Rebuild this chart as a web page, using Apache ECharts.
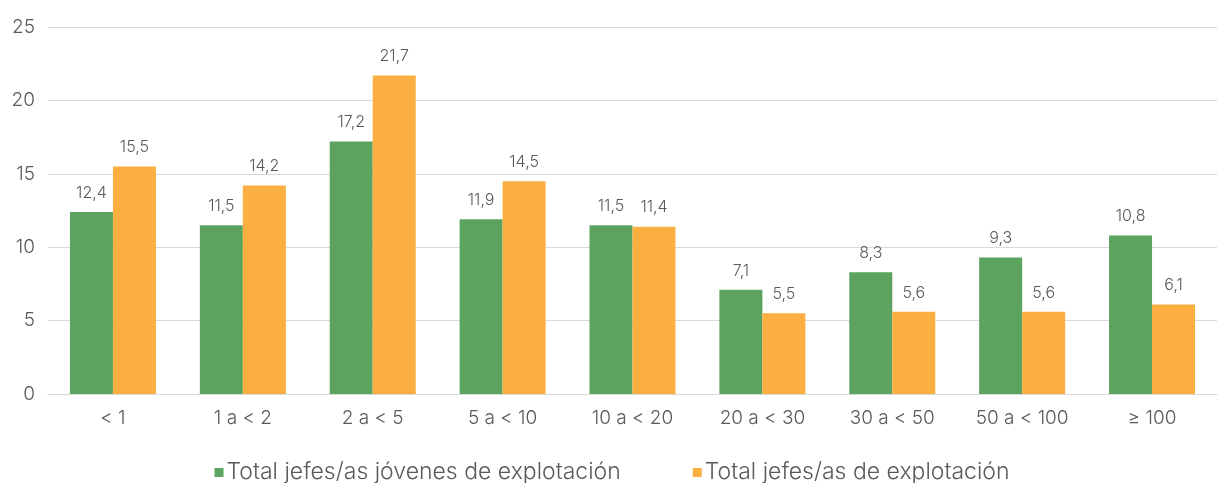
<!DOCTYPE html>
<html>
<head>
<meta charset="utf-8">
<script src="https://cdn.jsdelivr.net/npm/echarts@6/dist/echarts.min.js"></script>
<style>
  html, body { margin: 0; padding: 0; background: #fff; }
  #chart { width: 1224px; height: 483px; }
</style>
</head>
<body>
<div id="chart"></div>
<script>
const categories = ["< 1", "1 a < 2", "2 a < 5", "5 a < 10", "10 a < 20", "20 a < 30", "30 a < 50", "50 a < 100", "≥ 100"];
const jovenes = [12.4, 11.5, 17.2, 11.9, 11.5, 7.1, 8.3, 9.3, 10.8];
const total = [15.5, 14.2, 21.7, 14.5, 11.4, 5.5, 5.6, 5.6, 6.1];
const seriesNames = ["Total jefes/as jóvenes de explotación", "Total jefes/as de explotación"];

const textColor = "#595959";
const fontFamily = "Inter, 'Open Sans', sans-serif";
const fmt = (p) => String(p.value).replace(".", ",");

const chart = echarts.init(document.getElementById("chart"));
const option = {
  animation: false,
  backgroundColor: "#fff",
  textStyle: { fontFamily: fontFamily },
  grid: { left: 48, right: 7, top: 27, bottom: 89 },
  legend: {
    top: 456,
    left: "center",
    itemWidth: 9,
    itemHeight: 9,
    itemGap: 72,
    icon: "rect",
    textStyle: { color: textColor, fontSize: 23, fontWeight: 300, fontFamily: fontFamily, padding: [0, 0, 0, -2] },
    data: seriesNames,
  },
  xAxis: {
    type: "category",
    data: categories,
    axisTick: { show: false },
    axisLine: { lineStyle: { color: "#d9d9d9" } },
    axisLabel: { color: textColor, fontSize: 19, fontWeight: 300, margin: 15, fontFamily: fontFamily },
  },
  yAxis: {
    type: "value",
    min: 0,
    max: 25,
    interval: 5,
    axisLabel: { color: textColor, fontSize: 19, fontWeight: 300, margin: 13, fontFamily: fontFamily },
    splitLine: { lineStyle: { color: "#d9d9d9", width: 1 } },
  },
  series: [
    {
      name: seriesNames[0],
      type: "bar",
      data: jovenes,
      barWidth: 43,
      barGap: "0%",
      itemStyle: { color: "#5BA35E" },
      label: { show: true, position: "top", distance: 11, color: textColor, fontSize: 16, fontWeight: 300, formatter: fmt },
    },
    {
      name: seriesNames[1],
      type: "bar",
      data: total,
      barWidth: 43,
      barGap: "0%",
      itemStyle: { color: "#FBAF41" },
      label: { show: true, position: "top", distance: 11, color: textColor, fontSize: 16, fontWeight: 300, formatter: fmt },
    },
  ],
};
chart.setOption(option);
</script>
</body>
</html>
